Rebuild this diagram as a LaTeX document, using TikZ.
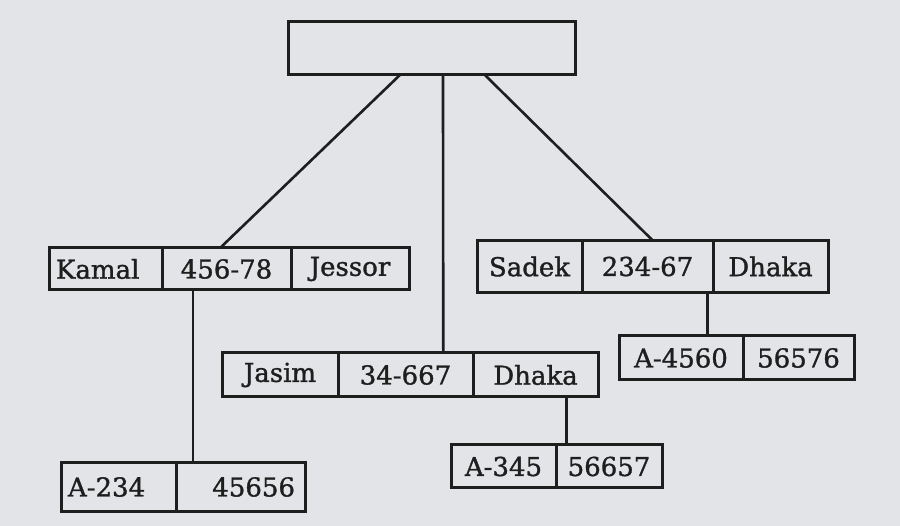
\documentclass[tikz,border=0pt]{standalone}
\usepackage{fontspec}
\newfontfamily\cellfont{DejaVu Serif}[FakeBold=1.2]
\usepackage{tikz}
\usetikzlibrary{positioning,calc}
\definecolor{paper}{RGB}{226,228,231}
\definecolor{ink}{RGB}{30,30,30}

\begin{document}
\begin{tikzpicture}[x=1pt,y=-1pt,
  cell/.style={draw=ink,text=ink,line width=3pt,outer sep=0pt,inner sep=0pt,minimum width=#1,font=\cellfont\fontsize{26}{28}\selectfont},
  link/.style={draw=ink,line width=2.6pt}]
  \fill[paper] (0,0) rectangle (900,526);
  \useasboundingbox (0,0) rectangle (900,526);
  \node[cell=287pt,minimum height=53pt,anchor=west] (r) at (288,48.5) {};
  \begin{scope}[every node/.append style={minimum height=42pt}]
    \node[cell=113pt,anchor=west,text width=99pt,align=left] (k1) at (49,269) {Kamal};
    \node[cell=129pt,right=0pt of k1] (k2) {456-78};
    \node[cell=118pt,right=0pt of k2] (k3) {Jessor};
  \end{scope}
  \begin{scope}[every node/.append style={minimum height=44pt}]
    \node[cell=116pt,anchor=west] (j1) at (222,375) {Jasim};
    \node[cell=135pt,right=0pt of j1] (j2) {34-667};
    \node[cell=125pt,right=0pt of j2] (j3) {Dhaka};
  \end{scope}
  \begin{scope}[every node/.append style={minimum height=52pt}]
    \node[cell=105pt,anchor=west] (s1) at (477,266.5) {Sadek};
    \node[cell=131pt,right=0pt of s1] (s2) {234-67};
    \node[cell=115pt,right=0pt of s2] (s3) {Dhaka};
  \end{scope}
  \begin{scope}[every node/.append style={minimum height=48pt}]
    \node[cell=115pt,anchor=west,text width=101pt,align=left] (ka1) at (61,487) {A-234};
    \node[cell=129pt,right=0pt of ka1,text width=109pt,align=right] (ka2) {45656};
  \end{scope}
  \begin{scope}[every node/.append style={minimum height=43pt}]
    \node[cell=105pt,anchor=west] (ja1) at (451,466.5) {A-345};
    \node[cell=106pt,right=0pt of ja1] (ja2) {56657};
  \end{scope}
  \begin{scope}[every node/.append style={minimum height=44pt}]
    \node[cell=124pt,anchor=west] (sa1) at (619,358) {A-4560};
    \node[cell=111pt,right=0pt of sa1] (sa2) {56576};
  \end{scope}
  \draw[link] ($(r.south west)!.39!(r.south east)$) -- ($(k2.north west)!.45!(k2.north east)$);
  \draw[link] ($(r.south west)!.54!(r.south east)$) -- ($(j2.north west)!.78!(j2.north east)$);
  \draw[link] ($(r.south west)!.686!(r.south east)$) -- ($(s2.north west)!.54!(s2.north east)$);
  \draw[link] ($(k2.south west)!.24!(k2.south east)$) coordinate (kd) -- (kd |- ka2.north);
  \draw[link] ($(j3.south west)!.75!(j3.south east)$) coordinate (jd) -- (jd |- ja2.north);
  \draw[link] ($(s2.south west)!.96!(s2.south east)$) coordinate (sd) -- (sd |- sa1.north);
\end{tikzpicture}
\end{document}
